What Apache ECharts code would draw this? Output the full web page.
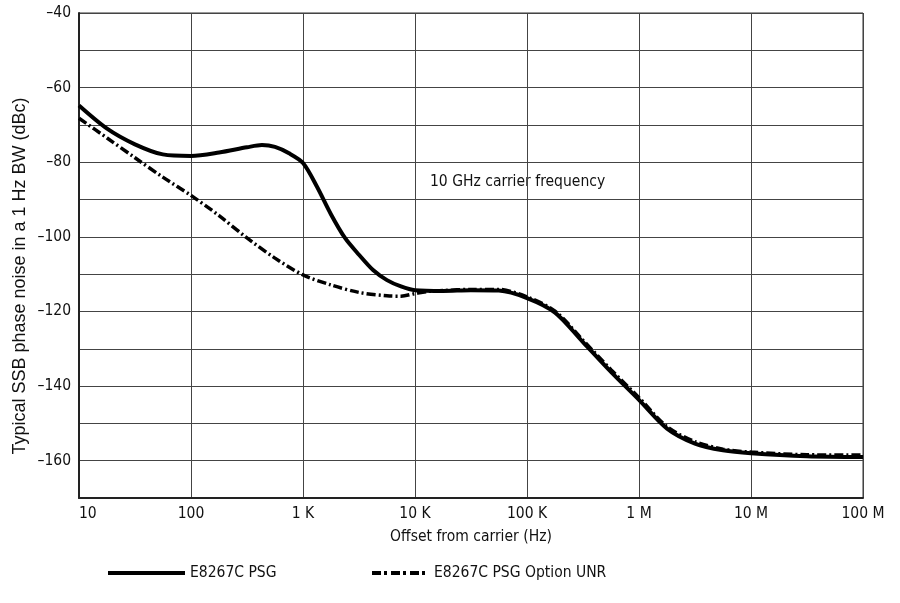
<!DOCTYPE html>
<html>
<head>
<meta charset="utf-8">
<script src="https://cdn.jsdelivr.net/npm/echarts@6/dist/echarts.min.js"></script>
<style>
  html, body { margin: 0; padding: 0; background: #fff; }
  #chart { width: 900px; height: 603px; }
</style>
</head>
<body>
<div id="chart"></div>
<script>
// offset frequencies (Hz) and phase noise (dBc), ~4 points a decade
const psgFreq = [10, 17.8, 31.6, 56, 100, 178, 316, 430, 562, 750, 1000, 1330, 1780, 2370, 3160, 4220, 5620, 7500, 10000,
    17800, 31600, 56000, 100000, 178000, 316000, 562000, 1e6, 1.78e6, 3.16e6, 5.62e6, 1e7, 3.16e7, 1e8];
const psgNoise = [-64.8, -71, -75.2, -77.9, -78.3, -77.4, -76, -75.4, -75.9, -77.6, -80.2, -86.5, -94, -100.3, -104.8, -108.9, -111.6, -113.3, -114.3,
    -114.5, -114.3, -114.4, -116.4, -120.3, -128.2, -136.2, -143.7, -151.4, -155.4, -157.2, -158, -158.8, -159];

const unrFreq = [10, 17.8, 31.6, 56, 100, 178, 316, 562, 1000, 1780, 3160, 5620, 7500, 10000, 13300,
    17800, 31600, 56000, 100000, 178000, 316000, 562000, 1e6, 1.78e6, 3.16e6, 5.62e6, 1e7, 3.16e7, 1e8];
const unrNoise = [-68.2, -73.5, -78.8, -84, -88.9, -94.3, -100.3, -105.7, -110.2, -112.9, -114.9, -115.8, -115.9, -115.2, -114.6,
    -114.4, -114.1, -114.1, -116.1, -119.9, -127.7, -135.6, -143.1, -150.9, -154.9, -156.9, -157.7, -158.4, -158.5];

const xTickText = { 10: '10', 100: '100', 1000: '1 K', 10000: '10 K', 100000: '100 K',
    1000000: '1 M', 10000000: '10 M', 100000000: '100 M' };

const narrow = "'Liberation Sans Narrow', 'DejaVu Sans Condensed', sans-serif";

function createChart(element, option) {
    let myChart = echarts.init(element);
    myChart.setOption(option);
    return myChart;
}

const zip = (xs, ys) => xs.map((x, i) => [x, ys[i]]);

createChart(document.getElementById('chart'), {
    animation: false,
    backgroundColor: '#fff',
    grid: {
        left: 79, right: 37, top: 13, bottom: 105,
        show: true, borderColor: '#333', borderWidth: 1
    },
    xAxis: {
        type: 'log',
        logBase: 10,
        min: 10,
        max: 1e8,
        name: 'Offset from carrier (Hz)',
        nameLocation: 'middle',
        nameGap: 31,
        nameTextStyle: { color: '#111', fontSize: 15.5, fontFamily: narrow },
        axisLine: { lineStyle: { color: '#222', width: 2 } },
        axisTick: { show: false },
        axisLabel: {
            color: '#111', fontSize: 15.5, fontFamily: narrow, margin: 8,
            alignMinLabel: 'left',
            formatter: v => xTickText[Math.round(v)] || ''
        },
        splitLine: { show: true, lineStyle: { color: '#444', width: 1 } }
    },
    yAxis: {
        type: 'value',
        min: -170,
        max: -40,
        interval: 10,
        axisLine: { show: true, lineStyle: { color: '#222', width: 2 } },
        axisTick: { show: false },
        axisLabel: {
            color: '#111', fontSize: 15.5, fontFamily: narrow, margin: 8,
            formatter: v => (v % 20 === 0 ? '\u2013' + Math.abs(v) : '')
        },
        splitLine: { show: true, lineStyle: { color: '#444', width: 1 } }
    },
    legend: [{
        data: ['E8267C PSG'],
        left: 101, top: 560,
        itemWidth: 77, itemHeight: 14, itemGap: 0,
        itemStyle: { opacity: 0 },
        lineStyle: { width: 4, color: '#000' },
        textStyle: { color: '#111', fontSize: 15.5, fontFamily: narrow }
    }, {
        data: ['E8267C PSG Option UNR'],
        left: 365, top: 560,
        itemWidth: 57, itemHeight: 14, itemGap: 0,
        itemStyle: { opacity: 0 },
        lineStyle: { width: 4, color: '#000', type: [9, 3, 3, 4] },
        textStyle: { color: '#111', fontSize: 15.5, fontFamily: narrow }
    }],
    graphic: [{
        type: 'text',
        left: 430, top: 174,
        style: { text: '10 GHz carrier frequency', fill: '#111', fontSize: 15.5, fontFamily: narrow }
    }, {
        // y axis title, sits a bit below the grid centre in the reference
        type: 'text',
        x: 20, y: 276,
        rotation: Math.PI / 2,
        style: {
            text: 'Typical SSB phase noise in a 1 Hz BW (dBc)', fill: '#111',
            fontSize: 18, fontFamily: "'Liberation Sans', Arial, sans-serif",
            align: 'center', verticalAlign: 'middle'
        }
    }],
    series: [{
        name: 'E8267C PSG Option UNR',
        type: 'line',
        data: zip(unrFreq, unrNoise),
        smooth: 0.3,
        showSymbol: false,
        symbol: 'none',
        lineStyle: { color: '#000', width: 3.5, type: [9, 3, 2, 3] },
        itemStyle: { color: '#000' }
    }, {
        name: 'E8267C PSG',
        type: 'line',
        data: zip(psgFreq, psgNoise),
        smooth: 0.3,
        showSymbol: false,
        symbol: 'none',
        lineStyle: { color: '#000', width: 4 },
        itemStyle: { color: '#000' }
    }]
});
</script>
</body>
</html>
